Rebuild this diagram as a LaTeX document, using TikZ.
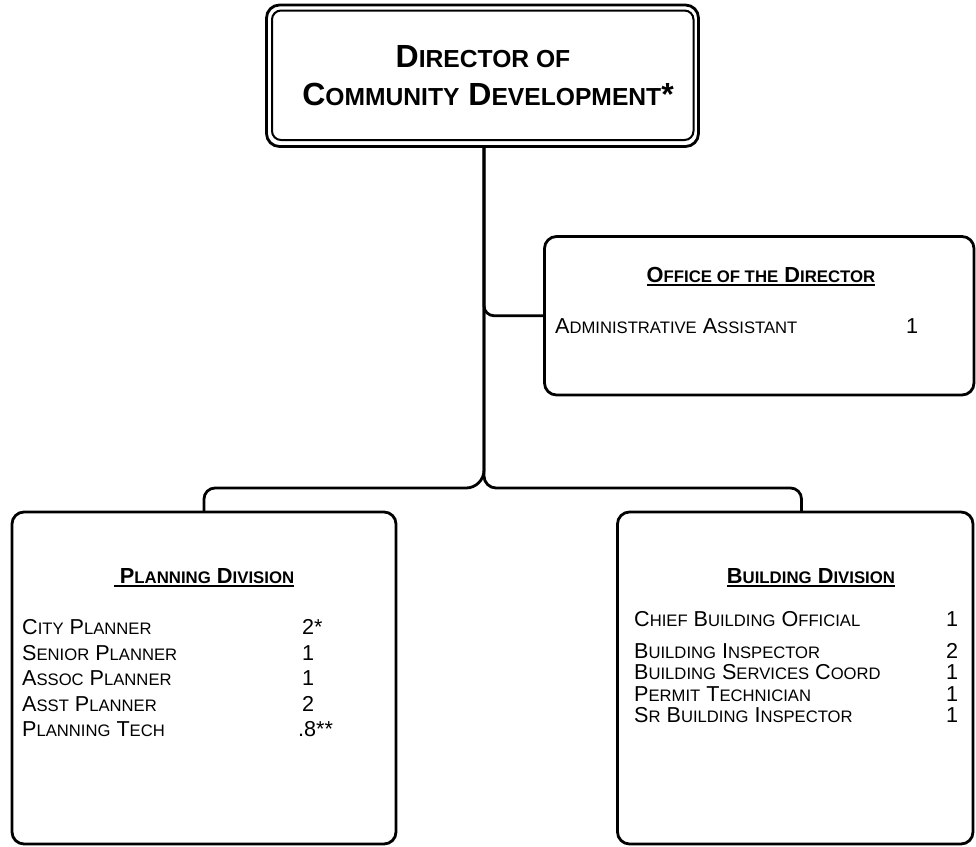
\documentclass[tikz,border=0pt]{standalone}
\usepackage{fontspec}
\setmainfont{Liberation Sans}
\usepackage{graphicx}
% reduced capitals for the small-caps look
\newcommand\sm[1]{\scalebox{0.77}{#1}}
% underline drawn as a rule under the whole text
\newcommand\ulin[1]{\setbox0\hbox{#1}\rlap{\rule[-3.5pt]{\wd0}{1.6pt}}\box0}
\begin{document}
\begin{tikzpicture}[x=1pt,y=-1pt,
  box/.style={draw, line width=2.8pt, rounded corners=12pt, inner sep=0pt, outer sep=0pt, fill=white},
  conn/.style={line width=2.8pt},
  body/.style={anchor=base west, inner sep=0pt, font=\fontsize{21.6}{24}\selectfont},
  head/.style={anchor=base, inner sep=0pt, font=\bfseries\fontsize{21.8}{24}\selectfont},
  title/.style={anchor=base, inner sep=0pt, font=\bfseries\fontsize{32}{38}\selectfont}]
\useasboundingbox (0,0) rectangle (976,846);

% boxes
\node[box, rounded corners=13pt, minimum width=432pt, minimum height=141.5pt] (dir) at (482.5,75.75) {};
\draw[line width=2pt, rounded corners=9pt] ([shift={(5.5,5.5)}]dir.north west) rectangle ([shift={(-5,-6.5)}]dir.south east);
\node[box, minimum width=429.5pt, minimum height=158.5pt] (off) at (759.25,315.75) {};
\node[box, minimum width=384pt, minimum height=332pt] (plan) at (204,678) {};
\node[box, minimum width=355.5pt, minimum height=332pt] (bld) at (795.25,678) {};

% connectors
\coordinate (jn) at (484,488);
\coordinate (jl) at (plan.north |- jn);
\coordinate (jr) at (801.5,488);
\coordinate (bt) at (jr |- bld.north);
\draw[conn] (jn |- dir.south) [rounded corners=18pt] -- (jn) [rounded corners=11pt] -- (jl) -- (plan.north);
\draw[conn] (jn |- dir.south) [rounded corners=12pt] -- (jn) [rounded corners=11pt] -- (jr) -- (bt);
\draw[conn, rounded corners=10pt] (jn |- dir.south) |- (off.west);

% director title
\node[title] (t1) at (483,67) {D\sm{IRECTOR OF}};
\node[title] (t2) at (488,105) {C\sm{OMMUNITY} D\sm{EVELOPMENT}*};

% office of the director
\node[head] (offh) at (761,282) {\ulin{O\sm{FFICE OF THE} D\sm{IRECTOR}}};
\node[body] (adm) at (555,333) {A\sm{DMINISTRATIVE} A\sm{SSISTANT}};
\node[body] (admn) at (906,333) {1};

% planning division
\node[head] (planh) at (204,583) {\ulin{\ P\sm{LANNING} D\sm{IVISION}}};
\node[body] (p1) at (22,634) {C\sm{ITY} P\sm{LANNER}};
\node[body] (p2) at (22,660) {S\sm{ENIOR} P\sm{LANNER}};
\node[body] (p3) at (22,685) {A\sm{SSOC} P\sm{LANNER}};
\node[body] (p4) at (22,711) {A\sm{SST} P\sm{LANNER}};
\node[body] (p5) at (22,736) {P\sm{LANNING} T\sm{ECH}};
\node[body] (n1) at (302,634) {2*};
\node[body] (n2) at (302,660) {1};
\node[body] (n3) at (302,685) {1};
\node[body] (n4) at (302,711) {2};
\node[body] (n5) at (298,736) {.8**};

% building division
\node[head] (bldh) at (811,583) {\ulin{B\sm{UILDING} D\sm{IVISION}}};
\node[body] (b1) at (634,626) {C\sm{HIEF} B\sm{UILDING} O\sm{FFICIAL}};
\node[body] (b2) at (634,658) {B\sm{UILDING} I\sm{NSPECTOR}};
\node[body] (b3) at (634,679) {B\sm{UILDING} S\sm{ERVICES} C\sm{OORD}};
\node[body] (b4) at (634,701) {P\sm{ERMIT} T\sm{ECHNICIAN}};
\node[body] (b5) at (634,722) {S\sm{R} B\sm{UILDING} I\sm{NSPECTOR}};
\node[body] (m1) at (946,626) {1};
\node[body] (m2) at (946,658) {2};
\node[body] (m3) at (946,679) {1};
\node[body] (m4) at (946,701) {1};
\node[body] (m5) at (946,722) {1};
\end{tikzpicture}
\end{document}
